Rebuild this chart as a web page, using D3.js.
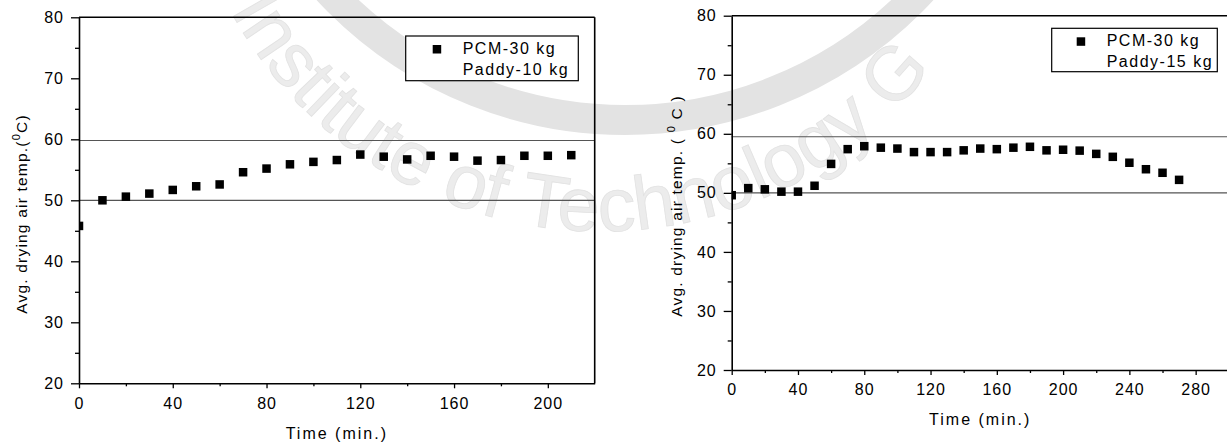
<!DOCTYPE html>
<html lang="en">
<head>
<meta charset="UTF-8">
<title>Avg. drying air temperature vs time</title>
<script src="https://d3js.org/d3.v7.min.js"></script>
<style>
  body { margin: 0; background: #fff; font-family: "Liberation Sans", Arial, sans-serif; }
  svg { display: block; }
  .tick text { font-size: 16px; letter-spacing: 1px; fill: #000; font-family: "Liberation Sans", Arial, sans-serif; }
  .tick line { stroke: #000; stroke-width: 1.3; }
  .domain { stroke: #000; stroke-width: 1.6; }
  .legend text { font-size: 16px; letter-spacing: 1.5px; }
  .axis-title { font-size: 15.5px; letter-spacing: 1.2px; white-space: pre; }
  .x-title { font-size: 16px; letter-spacing: 2px; }
  .watermark text { font-size: 76px; fill: #ececec; stroke: #e2e2e2; stroke-width: 0.8; }
</style>
</head>
<body>
<svg width="1227" height="443"></svg>
<script>
// left panel: PCM-30 kg / Paddy-10 kg
const timeA = [0, 10, 20, 30, 40, 50, 60, 70, 80, 90, 100, 110, 120, 130, 140, 150, 160, 170, 180, 190, 200, 210];
const tempA = [45.8, 50.0, 50.6, 51.1, 51.7, 52.3, 52.6, 54.6, 55.2, 55.9, 56.3, 56.6, 57.5, 57.15, 56.7, 57.3, 57.15, 56.5, 56.6, 57.3, 57.3, 57.4];
const refA = [59.8, 50];
const legendA = ["PCM-30 kg", "Paddy-10 kg"];
const xMajorA = [0, 40, 80, 120, 160, 200];
const xMinorA = [20, 60, 100, 140, 180];

// right panel: PCM-30 kg / Paddy-15 kg
const timeB = [0, 10, 20, 30, 40, 50, 60, 70, 80, 90, 100, 110, 120, 130, 140, 150, 160, 170, 180, 190, 200, 210, 220, 230, 240, 250, 260, 270];
const tempB = [49.6, 50.8, 50.6, 50.2, 50.2, 51.2, 54.9, 57.4, 57.9, 57.65, 57.5, 56.9, 56.9, 56.9, 57.2, 57.5, 57.4, 57.65, 57.8, 57.2, 57.3, 57.15, 56.6, 56.1, 55.1, 54.0, 53.4, 52.2];
const refB = [59.5, 50];
const legendB = ["PCM-30 kg", "Paddy-15 kg"];
const xMajorB = [0, 40, 80, 120, 160, 200, 240, 280];
const xMinorB = [20, 60, 100, 140, 180, 220, 260];

const yMajor = [20, 30, 40, 50, 60, 70, 80];
const yMinor = [25, 35, 45, 55, 65, 75];

const svg = d3.select("svg");

// faint watermark behind the charts
const wm = svg.append("g").attr("class", "watermark");
wm.append("circle")
  .attr("cx", 625).attr("cy", -285).attr("r", 405)
  .attr("fill", "none").attr("stroke", "#e3e3e3").attr("stroke-width", 30);
wm.append("path")
  .attr("id", "wmArc")
  .attr("fill", "none")
  .attr("d", "M205,-46 A420,420 0 0 0 995,-46");
wm.append("text")
  .append("textPath")
  .attr("href", "#wmArc")
  .attr("startOffset", "6%")
  .text("Institute of Technology G");

function drawPanel(id, cfg) {
  const x = d3.scaleLinear().domain(cfg.xDomain).range([cfg.left, cfg.right]);
  const y = d3.scaleLinear().domain([20, 80]).range([cfg.bottom, cfg.top]);
  const g = svg.append("g");

  g.append("clipPath").attr("id", "clip" + id)
    .append("rect")
    .attr("x", cfg.left).attr("y", cfg.top)
    .attr("width", cfg.right - cfg.left).attr("height", cfg.bottom - cfg.top);

  // reference lines
  g.selectAll("line.ref")
    .data(cfg.ref)
    .enter().append("line")
    .attr("class", "ref")
    .attr("x1", cfg.left).attr("x2", cfg.right)
    .attr("y1", d => y(d)).attr("y2", d => y(d))
    .attr("stroke", "#555").attr("stroke-width", 1.2);

  // frame top / right
  g.append("line")
    .attr("x1", cfg.left).attr("x2", cfg.right)
    .attr("y1", y(80)).attr("y2", y(80))
    .attr("stroke", "#000").attr("stroke-width", 1.6);
  g.append("line")
    .attr("x1", cfg.right).attr("x2", cfg.right)
    .attr("y1", y(80)).attr("y2", y(20))
    .attr("stroke", "#000").attr("stroke-width", 1.6);

  // minor ticks
  g.append("g")
    .attr("transform", `translate(${cfg.left},0)`)
    .call(d3.axisLeft(y).tickValues(yMinor).tickSize(4).tickFormat(""))
    .call(a => a.select(".domain").remove());
  g.append("g")
    .attr("transform", `translate(0,${cfg.bottom})`)
    .call(d3.axisBottom(x).tickValues(cfg.xMinor).tickSize(3).tickFormat(""))
    .call(a => a.select(".domain").remove());

  // major axes
  g.append("g")
    .attr("transform", `translate(${cfg.left},0)`)
    .call(d3.axisLeft(y).tickValues(yMajor).tickSize(8).tickSizeOuter(0).tickPadding(7));
  g.append("g")
    .attr("transform", `translate(0,${cfg.bottom})`)
    .call(d3.axisBottom(x).tickValues(cfg.xMajor).tickSize(5).tickSizeOuter(0).tickPadding(9));

  // markers
  const s = 8.5;
  g.append("g")
    .attr("clip-path", `url(#clip${id})`)
    .selectAll("rect")
    .data(cfg.time.map((t, i) => ({ t: t, v: cfg.temp[i] })))
    .enter().append("rect")
    .attr("x", d => x(d.t) - s / 2)
    .attr("y", d => y(d.v) - s / 2)
    .attr("width", s).attr("height", s)
    .attr("fill", "#000");

  // legend
  const L = cfg.legend;
  const lg = g.append("g").attr("class", "legend");
  lg.append("rect")
    .attr("x", L.x).attr("y", L.y)
    .attr("width", L.w).attr("height", L.h)
    .attr("fill", "#fff").attr("stroke", "#000").attr("stroke-width", 1.2);
  lg.append("rect")
    .attr("x", L.x + L.sq).attr("y", L.y + 9)
    .attr("width", s).attr("height", s)
    .attr("fill", "#000");
  lg.selectAll("text")
    .data(cfg.legendText)
    .enter().append("text")
    .attr("x", L.x + L.tx)
    .attr("y", (d, i) => L.y + 17.5 + i * 21.5)
    .text(d => d);

  // axis titles
  g.append("text")
    .attr("class", "x-title")
    .attr("x", (cfg.left + cfg.right) / 2)
    .attr("y", cfg.xTitleY)
    .attr("text-anchor", "middle")
    .text("Time (min.)");

  const yt = g.append("text")
    .attr("class", "axis-title")
    .attr("transform", `translate(${cfg.yTitleX},${cfg.yTitleY}) rotate(-90)`)
    .attr("text-anchor", "middle");
  yt.append("tspan").text(cfg.yTitle[0]);
  yt.append("tspan").attr("dy", -7).attr("font-size", 11).text("0");
  yt.append("tspan").attr("dy", 7).text(cfg.yTitle[1]);
}

drawPanel("A", {
  left: 79, right: 594.7, top: 17.3, bottom: 383.3, xDomain: [0, 220],
  time: timeA, temp: tempA, ref: refA, xMajor: xMajorA, xMinor: xMinorA,
  legend: { x: 405.7, y: 36, w: 172.6, h: 44.7, sq: 27, tx: 57 }, legendText: legendA,
  xTitleY: 438.5, yTitleX: 26.5, yTitleY: 214,
  yTitle: ["Avg. drying air temp.(", "C)"]
});

drawPanel("B", {
  left: 731.7, right: 1228.8, top: 15.7, bottom: 370, xDomain: [0, 300],
  time: timeB, temp: tempB, ref: refB, xMajor: xMajorB, xMinor: xMinorB,
  legend: { x: 1051.7, y: 28.3, w: 165.6, h: 43.4, sq: 25, tx: 55 }, legendText: legendB,
  xTitleY: 425, yTitleX: 682, yTitleY: 206,
  yTitle: ["Avg. drying air temp. ( ", " C )"]
});
</script>
</body>
</html>
